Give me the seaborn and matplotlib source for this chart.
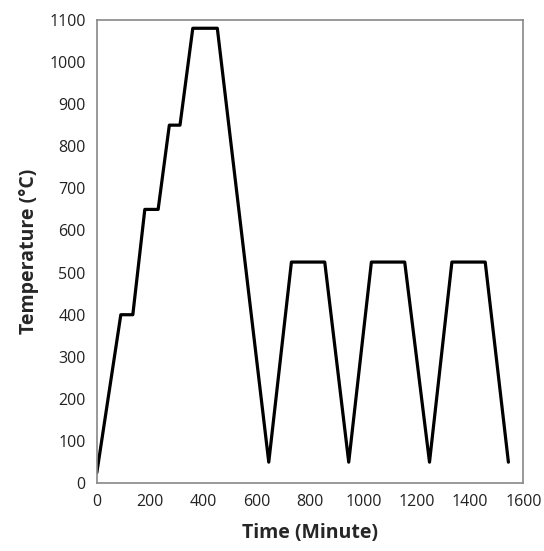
import pandas as pd
import matplotlib
matplotlib.use("Agg")
import matplotlib.pyplot as plt
import seaborn as sns

# Heat treatment schedule
time_min = [0, 90, 135, 180, 230, 272, 312, 360, 452,
            645, 730, 855, 945, 1030, 1155, 1248, 1332, 1457, 1544]
temp_c = [25, 400, 400, 650, 650, 850, 850, 1080, 1080,
          50, 525, 525, 50, 525, 525, 50, 525, 525, 50]
x_ticks = list(range(0, 1601, 200))
y_ticks = list(range(0, 1101, 100))

df = pd.DataFrame({'time': time_min, 'temp': temp_c})

sns.set_style('white')
plt.rcParams['font.family'] = ['Open Sans', 'DejaVu Sans']

fig = plt.figure(figsize=(5.44, 5.51), dpi=100)
ax = fig.add_axes([0.178, 0.123, 0.784, 0.841])
sns.lineplot(data=df, x='time', y='temp', estimator=None, sort=False,
             color='black', linewidth=2.3, ax=ax)

ax.set_xlim(0, 1600)
ax.set_ylim(0, 1100)
ax.set_xticks(x_ticks)
ax.set_yticks(y_ticks)
ax.tick_params(axis='both', direction='out', length=5, width=1,
               color='#888888', labelsize=11.5, labelcolor='#222222', pad=3)
for side in ['top', 'right', 'left', 'bottom']:
    ax.spines[side].set_visible(True)
    ax.spines[side].set_color('#888888')
    ax.spines[side].set_linewidth(1.2)

ax.set_xlabel('Time (Minute)', fontsize=14, fontweight='bold', labelpad=9)
ax.set_ylabel('Temperature (°C)', fontsize=14, fontweight='bold', labelpad=7)

fig.savefig('out.png', dpi=100)
